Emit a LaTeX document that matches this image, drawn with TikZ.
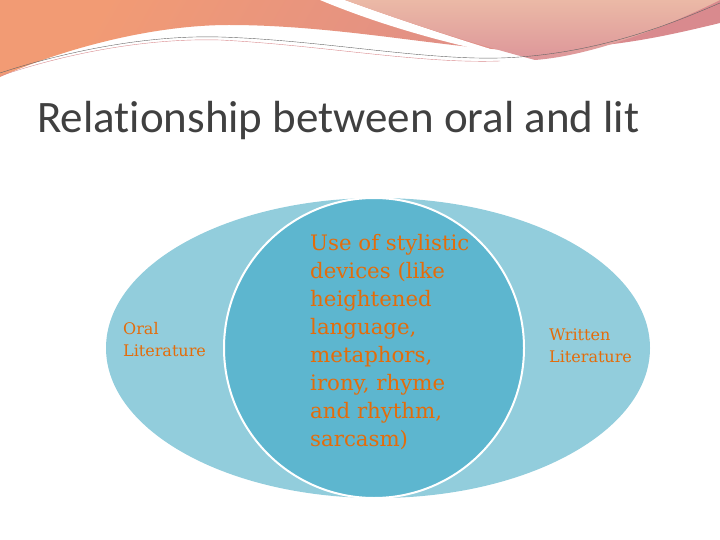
\documentclass[tikz,border=0pt]{standalone}
\usepackage{fontspec}
\usetikzlibrary{shapes.geometric}
\setmainfont{DejaVu Serif}
\newfontfamily\titlefont[Ligatures=NoCommon]{Carlito}
\definecolor{outerblue}{HTML}{92CDDC}
\definecolor{innerblue}{HTML}{5DB6CF}
\definecolor{textorange}{HTML}{E46C0A}
\definecolor{bannerpink}{HTML}{D98A8E}
\definecolor{bannerpeach}{HTML}{F29B74}
\definecolor{bannerlight}{HTML}{EBB9A6}
\begin{document}
\begin{tikzpicture}[x=1pt,y=-1pt]
    \tikzstyle{side label}=[text=textorange, align=left, inner sep=0pt, font=\fontsize{16}{22}\selectfont];
    \tikzstyle{mid label}=[text=textorange, align=left, inner sep=0pt, font=\fontsize{21.3}{28}\selectfont];
    
    \useasboundingbox (0,0) rectangle (720,540);
    
    % banner
    \shade[left color=bannerpeach, right color=bannerpink, shading angle=60]
        (0,0) -- (720,0) -- (720,23) .. controls (650,40) and (600,50) .. (505,50)
        .. controls (430,45) and (330,25) .. (229,25)
        .. controls (150,25) and (60,50) .. (0,77) -- cycle;
    \fill[white] (320,0) .. controls (380,25) and (450,45) .. (520,58)
        .. controls (460,40) and (400,20) .. (345,0) -- cycle;
    \shade[top color=bannerlight, bottom color=bannerpink!90]
        (345,0) .. controls (400,20) and (460,40) .. (535,60)
        .. controls (600,55) and (680,20) .. (720,0) -- cycle;
    \draw[gray!80!black, thin] (0,73) .. controls (70,50) and (150,35) .. (220,37)
        .. controls (320,40) and (420,60) .. (500,58)
        .. controls (600,55) and (680,20) .. (720,3);
    \draw[bannerpink, thin] (0,76) .. controls (70,52) and (150,38) .. (220,40)
        .. controls (320,45) and (420,64) .. (500,61);
    
    % title
    \node[anchor=west, inner sep=0pt, text=black!75, font=\titlefont\fontsize{45}{48}\selectfont] (title) at (37,121) {Relationship between oral and lit};
    
    % diagram
    \node[ellipse, fill=outerblue, minimum width=544, minimum height=300, inner sep=0pt] (outer) at (378,348) {};
    \node[circle, fill=innerblue, draw=white, line width=2, minimum size=300, inner sep=0pt] (inner) at (374,348) {};
    
    \node[side label, anchor=west] (oral) at (123,340) {Oral\\Literature};
    \node[side label, anchor=west] (written) at (549,346) {Written\\Literature};
    \node[mid label, anchor=north west] (devices) at (310,234) {Use of stylistic\\devices (like\\heightened\\language,\\metaphors,\\irony, rhyme\\and rhythm,\\sarcasm)};
    
\end{tikzpicture}
\end{document}
